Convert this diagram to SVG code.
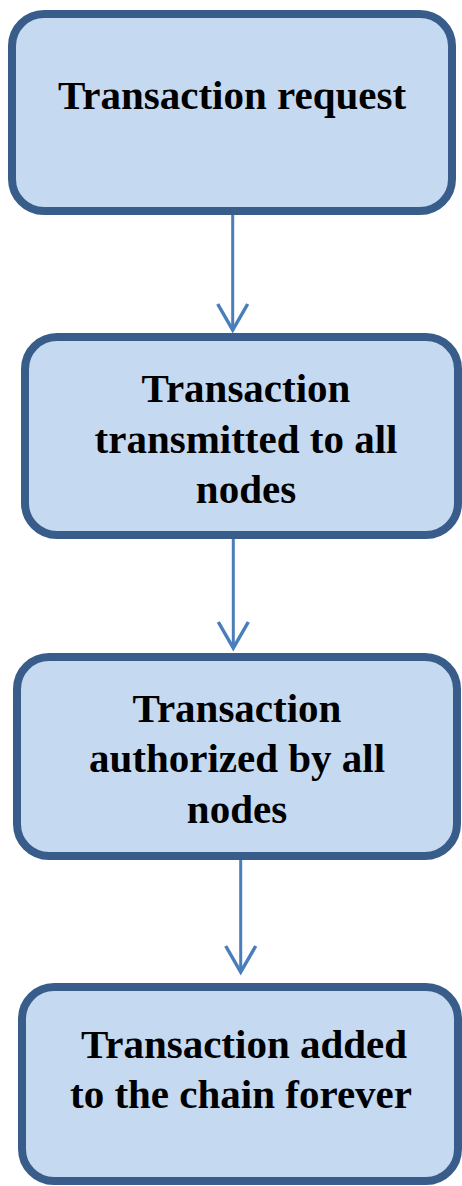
<svg xmlns="http://www.w3.org/2000/svg" width="462" height="1186" viewBox="0 0 462 1186">
<style>
.box{fill:#c5d9f1;stroke:#385d8a;stroke-width:8}
.lbl{font-family:"Liberation Serif","Times New Roman",serif;font-weight:bold;font-size:41px;fill:#000;text-anchor:middle}
.conn{stroke:#4a7ebb;stroke-width:3;fill:none}
</style>
<defs>
<marker id="arr" markerUnits="userSpaceOnUse" orient="auto" refX="0" refY="0" markerWidth="40" markerHeight="40" overflow="visible">
<path d="M-26,-15 L0,0 L-26,15" fill="none" stroke="#4a7ebb" stroke-width="3.5" stroke-linejoin="miter"/>
</marker>
</defs>
<rect width="462" height="1186" fill="#fff"/>
<g id="connectors">
<line class="conn" x1="232.7" y1="215" x2="232.7" y2="330" marker-end="url(#arr)"/>
<line class="conn" x1="233.3" y1="537" x2="233.3" y2="648" marker-end="url(#arr)"/>
<line class="conn" x1="240.7" y1="858" x2="240.7" y2="972" marker-end="url(#arr)"/>
</g>
<g id="node1">
<rect class="box" x="12" y="14" width="440" height="197" rx="32" ry="32"/>
<text class="lbl" x="232" y="109">Transaction request</text>
</g>
<g id="node2">
<rect class="box" x="25" y="337" width="433" height="198" rx="32" ry="32"/>
<text class="lbl" x="246" y="402">Transaction</text>
<text class="lbl" x="246" y="453">transmitted to all</text>
<text class="lbl" x="246" y="503">nodes</text>
</g>
<g id="node3">
<rect class="box" x="17" y="657" width="440" height="199" rx="32" ry="32"/>
<text class="lbl" x="237" y="722">Transaction</text>
<text class="lbl" x="237" y="772">authorized by all</text>
<text class="lbl" x="237" y="823">nodes</text>
</g>
<g id="node4">
<rect class="box" x="22" y="987" width="436" height="194" rx="32" ry="32"/>
<text class="lbl" x="244" y="1058">Transaction added</text>
<text class="lbl" x="241" y="1108">to the chain forever</text>
</g>
</svg>
